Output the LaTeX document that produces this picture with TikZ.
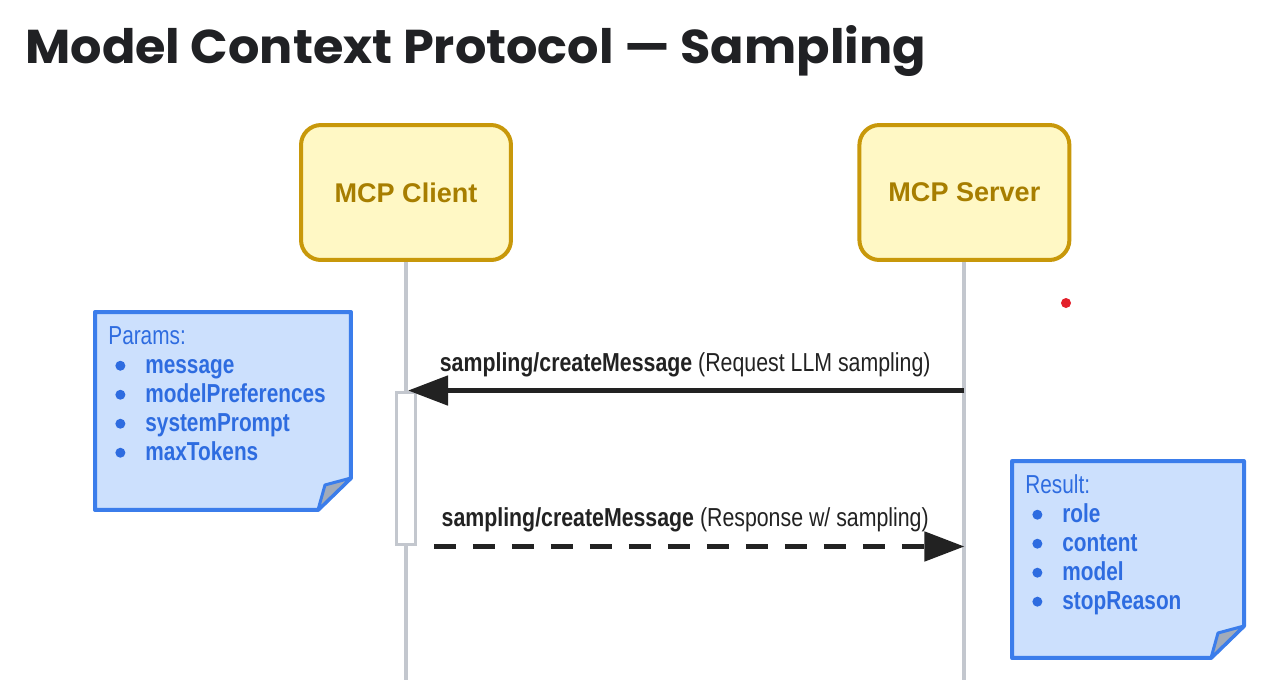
\documentclass[tikz,border=0pt]{standalone}
\usepackage{fontspec}
\usepackage{xcolor}
\usepackage{tikz}
\usetikzlibrary{arrows.meta,positioning,calc}
\newfontfamily\titlefont{Poppins}[FakeStretch=1.04]
\newfontfamily\msgfont{Liberation Sans}[FakeStretch=0.8]
\newfontfamily\labelfont{Liberation Sans}[FakeStretch=0.82]
\newfontfamily\boxfont{Liberation Sans}
\definecolor{boxfill}{HTML}{FFF8C5}
\definecolor{boxline}{HTML}{C8980A}
\definecolor{boxtext}{HTML}{A77E00}
\definecolor{notefill}{HTML}{CCE0FD}
\definecolor{noteline}{HTML}{3B7DEB}
\definecolor{notetext}{HTML}{2E6CE0}
\definecolor{foldfill}{HTML}{A2ABB9}
\definecolor{lifegray}{HTML}{C3C7CE}
\definecolor{msgdark}{HTML}{222222}
\definecolor{titledark}{HTML}{202124}
\definecolor{laser}{HTML}{E3202B}
\newcommand{\notedot}{\tikz[baseline=-0.15cm]\fill[notetext] (0,0) circle (0.1cm);}
\newcommand{\noteitem}[1]{\makebox[0.74cm][l]{\hspace{0.14cm}\notedot}\textbf{#1}}
\tikzset{
  actor/.style={draw=boxline, fill=boxfill, line width=0.08cm, rounded corners=0.4cm,
    minimum width=4.2cm, minimum height=2.7cm, text=boxtext,
    font=\boxfont\bfseries\fontsize{15.4}{18}\selectfont},
  lifeline/.style={draw=lifegray, line width=0.08cm},
  activation/.style={draw=lifegray, fill=white, line width=0.06cm,
    minimum width=0.38cm, minimum height=3.06cm, inner sep=0},
  msgline/.style={draw=msgdark, line width=0.1cm, -{Triangle[length=0.8cm,width=0.58cm]}},
  msglabel/.style={text=msgdark, font=\labelfont\fontsize{14.8}{17}\selectfont, inner sep=0},
  notearea/.style={inner sep=0, outer sep=0},
  notebox/.style={draw=noteline, fill=notefill, line width=0.08cm, line join=round},
  notefold/.style={draw=noteline, fill=foldfill, line width=0.06cm, line join=round},
  notetxt/.style={text=notetext, font=\msgfont\fontsize{14.8}{16.5}\selectfont,
    align=left, inner sep=0, anchor=north west},
}
\begin{document}
\begin{tikzpicture}[x=0.02cm,y=-0.02cm]
 \fill[white] (0,0) rectangle (1283,680);
 \useasboundingbox (0,0) rectangle (1283,680);
 \coordinate (bottom) at (0,680);

% title
 \node[anchor=base west, inner sep=0, text=titledark,
   font=\titlefont\bfseries\fontsize{27}{32}\selectfont] (title) at (25,63)
   {Model Context Protocol — Sampling};

% nodes
 \node[actor] (client) at (406,192.5) {MCP Client};
 \node[actor, right=6.89cm of client] (server) {MCP Server};

% lifelines
 \draw[lifeline] (client.south) -- (client.south |- bottom);
 \draw[lifeline] (server.south) -- (server.south |- bottom);
 \node[activation] (act) at (406,468.5) {};

% edges
 \draw[msgline] (server.south |- act.north) -- ([xshift=0.04cm]act.north);
 \draw[msgline, dash pattern=on 0.44cm off 0.34cm] ([xshift=0.56cm]act.south) -- (server.south |- act.south);
 \node[msglabel, above=0.27cm] (reqlabel) at ($(act.north)!0.5!(server.south |- act.north)$)
   {\textbf{sampling/createMessage} (Request LLM sampling)};
 \node[msglabel, above=0.29cm] (reslabel) at ($(act.south)!0.5!(server.south |- act.south)$)
   {\textbf{sampling/createMessage} (Response w/ sampling)};

% notes
 \node[notearea, minimum width=5.12cm, minimum height=3.96cm] (params) at (223,411) {};
 \draw[notebox] (params.north west) -- (params.north east) -- ([yshift=0.64cm]params.south east)
   -- ([xshift=-0.66cm]params.south east) -- (params.south west) -- cycle;
 \draw[notefold] ([yshift=0.64cm]params.south east) -- ([xshift=-0.52cm,yshift=0.5cm]params.south east)
   -- ([xshift=-0.66cm]params.south east) -- cycle;
 \node[notetxt] (paramstxt) at ([xshift=0.26cm,yshift=-0.28cm]params.north west)
   {Params:\\ \noteitem{message}\\ \noteitem{modelPreferences}\\ \noteitem{systemPrompt}\\ \noteitem{maxTokens}};

 \node[notearea, minimum width=4.64cm, minimum height=3.94cm] (result) at (1128,559.5) {};
 \draw[notebox] (result.north west) -- (result.north east) -- ([yshift=0.64cm]result.south east)
   -- ([xshift=-0.66cm]result.south east) -- (result.south west) -- cycle;
 \draw[notefold] ([yshift=0.64cm]result.south east) -- ([xshift=-0.52cm,yshift=0.5cm]result.south east)
   -- ([xshift=-0.66cm]result.south east) -- cycle;
 \node[notetxt] (resulttxt) at ([xshift=0.26cm,yshift=-0.26cm]result.north west)
   {Result:\\ \noteitem{role}\\ \noteitem{content}\\ \noteitem{model}\\ \noteitem{stopReason}};

 \fill[laser] (1066,303) circle (0.1cm);
\end{tikzpicture}
\end{document}
